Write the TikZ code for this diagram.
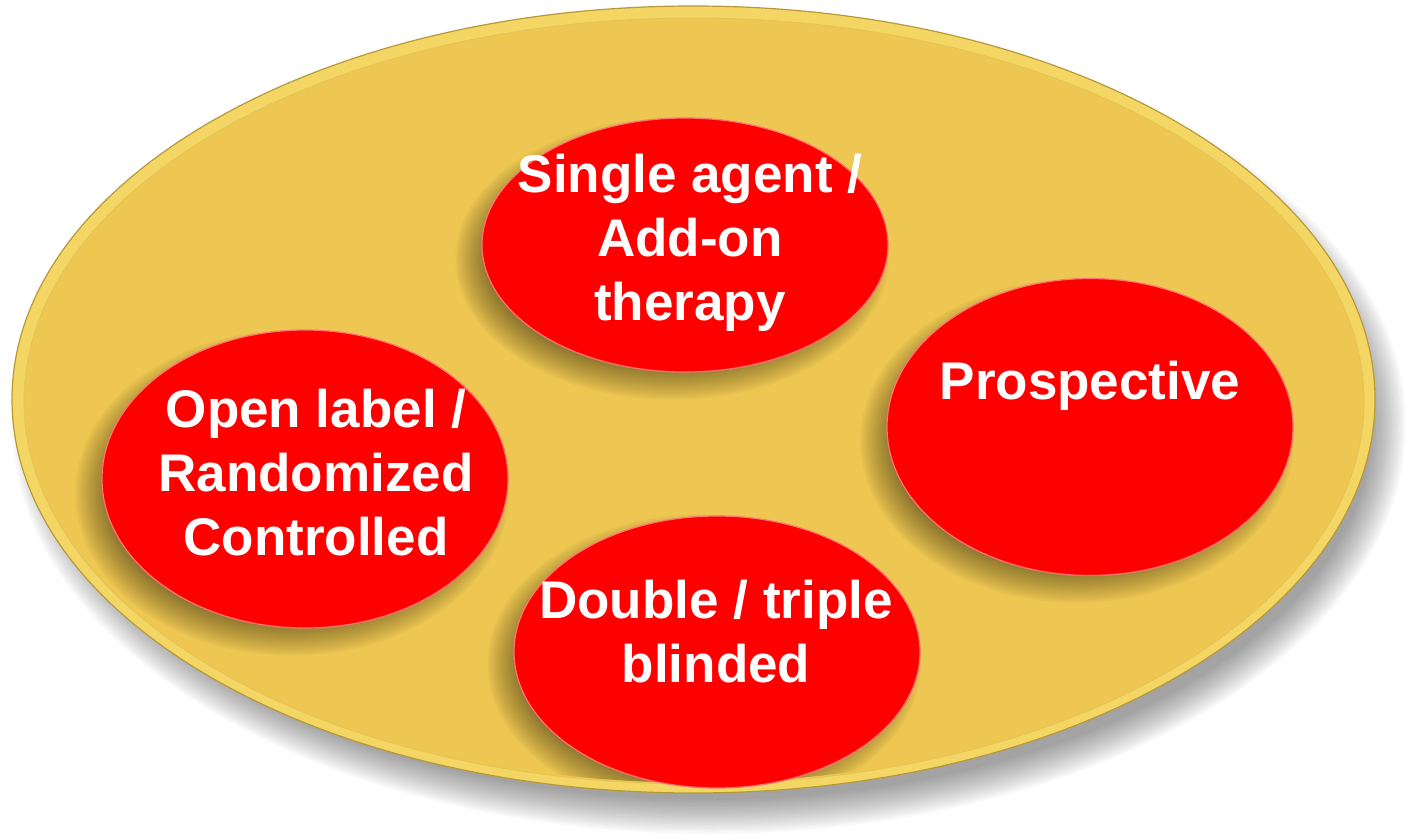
\documentclass[tikz,border=0pt]{standalone}
\usepackage{fontspec}
\setmainfont{Liberation Sans}
\usetikzlibrary{shapes.geometric}
\definecolor{gold}{HTML}{EDC752}
\definecolor{goldrim}{HTML}{F4D664}
\definecolor{goldline}{HTML}{B8993A}
\definecolor{redfill}{HTML}{FF0000}
% soft shadow: centre x, centre y, x radius, y radius, steps, spread, opacity per step
\newcommand{\mysoftshadow}[7]{%
  \foreach \k in {1,...,#5}{%
    \pgfmathsetmacro{\grow}{#6*(1-2*\k/#5)}%
    \fill[black, opacity=#7] (#1,#2) ellipse [x radius=#3+\grow, y radius=#4+\grow];
  }}
\tikzset{
  redoval/.style={ellipse, fill=redfill, draw=red!55!white, line width=1.2pt,
    inner sep=0pt, minimum width=406pt},
  label/.style={text=white, font=\bfseries\fontsize{53}{64}\selectfont, align=center},
}
\begin{document}
\begin{tikzpicture}[x=1pt,y=-1pt]
\useasboundingbox (0,0) rectangle (1407,835);
% outer shadow
\mysoftshadow{709}{425}{681}{393}{16}{18}{0.026}
% gold plate
\node[ellipse, minimum width=1363pt, minimum height=787pt, inner sep=0pt,
  fill=goldrim, draw=goldline, line width=1.2pt] (plate) at (693.5,399.5) {};
\node[ellipse, minimum width=1340pt, minimum height=766pt, inner sep=0pt,
  fill=gold, draw=goldrim!70!goldline, line width=0.8pt] (platein) at (694,401) {};
% shadows of red ovals
\begin{scope}
\clip (693.5,399.5) ellipse [x radius=670, y radius=383];
\mysoftshadow{672}{259}{203}{127}{14}{16}{0.03}
\mysoftshadow{292}{493}{203}{149}{14}{16}{0.03}
\mysoftshadow{1077}{441}{203}{148}{14}{16}{0.03}
\mysoftshadow{704}{664}{203}{136}{14}{16}{0.03}
\end{scope}
% red ovals
\node[redoval, minimum height=254pt] (top) at (685,245) {};
\node[redoval, minimum height=298pt] (left) at (305,479) {};
\node[redoval, minimum height=297pt] (right) at (1090,427) {};
\node[redoval, minimum height=272pt] (bottom) at (717,652) {};
% labels
\node[label] (ttop) at (690,243) {Single agent /\\Add-on\\therapy};
\node[label] (tleft) at (316,473) {Open label /\\Randomized\\Controlled};
\node[label] (tright) at (1090,386) {Prospective};
\node[label] (tbottom) at (716,632) {Double / triple\\blinded};
\end{tikzpicture}
\end{document}
